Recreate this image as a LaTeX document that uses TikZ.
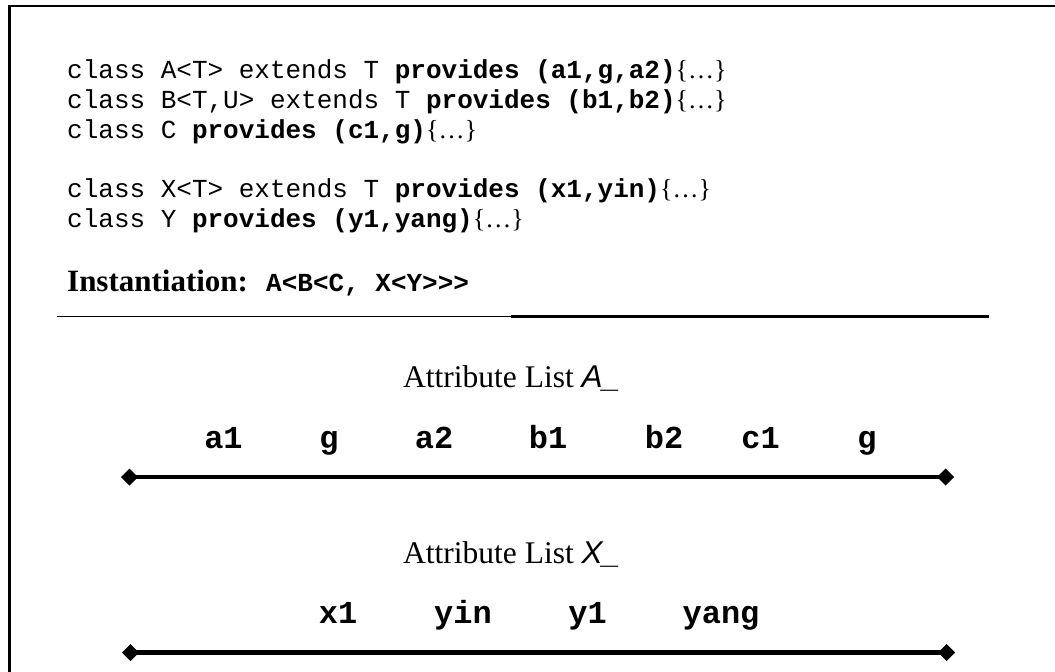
\documentclass[tikz,border=0pt]{standalone}
\usepackage{fontspec}
\usetikzlibrary{arrows.meta}
\newfontfamily\cmono{Liberation Mono}
\newfontfamily\cserif{Liberation Serif}
\newfontfamily\csans{Liberation Sans}
\newcommand\brk{{\cserif\fontsize{26}{30}\selectfont\{…\}}}
\begin{document}
\begin{tikzpicture}[x=1pt,y=-1pt,
  code/.style={anchor=base west,inner sep=0pt,font=\cmono\fontsize{26}{30}\selectfont},
  inst/.style={anchor=base west,inner sep=0pt,font=\cserif\bfseries\fontsize{31}{36}\selectfont},
  instv/.style={anchor=base west,inner sep=0pt,font=\cmono\bfseries\fontsize{26}{30}\selectfont},
  ltitle/.style={anchor=base west,inner sep=0pt,font=\cserif\fontsize{31.5}{36}\selectfont},
  attr/.style={anchor=base,inner sep=0pt,font=\cmono\bfseries\fontsize{32}{36}\selectfont},
  frameline/.style={line width=2.5pt},
  septhin/.style={line width=1.2pt},
  septhick/.style={line width=3pt},
  dtip/.tip={Diamond[length=17pt,width=17pt,line width=0pt]},
  attrline/.style={line width=4.5pt,dtip-dtip}]
\useasboundingbox (0,0) rectangle (1055,672);
\clip (0,0) rectangle (1055,672);
\fill[white] (0,0) rectangle (1055,672);
% frame (partly outside the picture)
\coordinate (fb) at (9.5,700);
\coordinate (fc) at (9.5,6);
\coordinate (fr) at (1100,6);
\draw[frameline] (fb) -- (fc) -- (fr);
% code lines
\node[code] (c1) at (67,78) {class A<T> extends T \textbf{provides (a1,g,a2)}\brk};
\node[code] (c2) at (67,108) {class B<T,U> extends T \textbf{provides (b1,b2)}\brk};
\node[code] (c3) at (67,138) {class C \textbf{provides (c1,g)}\brk};
\node[code] (c4) at (67,197) {class X<T> extends T \textbf{provides (x1,yin)}\brk};
\node[code] (c5) at (67,227) {class Y \textbf{provides (y1,yang)}\brk};
\node[inst] (ins) at (67,291.5) {Instantiation:};
\node[instv] (insv) at (266,291.5) {A<B<C, X<Y>>>};
% separator
\coordinate (s0) at (57,316.7);
\coordinate (s1) at (511,316.7);
\coordinate (s2) at (989,316.7);
\draw[septhin] (s0) -- (s1);
\draw[septhick] (s1) -- (s2);
% attribute list A_
\node[ltitle] (ta) at (403,387) {Attribute List {\csans\itshape A\_}};
\node[attr] (a1) at (223.5,448) {a1};
\node[attr] (a2) at (329,448) {g};
\node[attr] (a3) at (434,448) {a2};
\node[attr] (a4) at (548,448) {b1};
\node[attr] (a5) at (664,448) {b2};
\node[attr] (a6) at (760.5,448) {c1};
\node[attr] (a7) at (867,448) {g};
\coordinate (la) at (121,477);
\coordinate (ra) at (954,477);
\draw[attrline] (la) -- (ra);
% attribute list X_
\node[ltitle] (tx) at (403,563) {Attribute List {\csans\itshape X\_}};
\node[attr] (x1) at (338,623) {x1};
\node[attr] (x2) at (463,623) {yin};
\node[attr] (x3) at (587.5,623) {y1};
\node[attr] (x4) at (721,623) {yang};
\coordinate (lx) at (122,652.5);
\coordinate (rx) at (955,652.5);
\draw[attrline] (lx) -- (rx);
\end{tikzpicture}
\end{document}
